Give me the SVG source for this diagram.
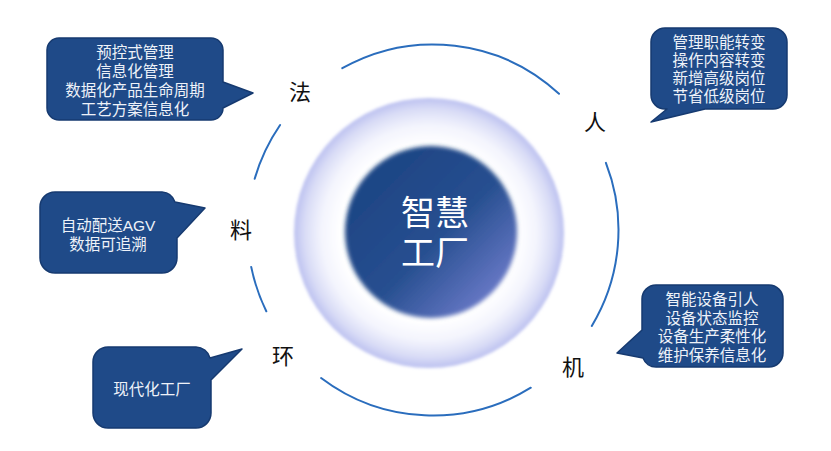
<svg xmlns="http://www.w3.org/2000/svg" width="831" height="451" viewBox="0 0 831 451">
<defs>
<radialGradient id="glow" cx="0.5" cy="0.5" r="0.5">
<stop offset="0" stop-color="#ffffff"/>
<stop offset="0.66" stop-color="#ffffff"/>
<stop offset="0.8" stop-color="#f3f4fd"/>
<stop offset="0.92" stop-color="#d9dcf6"/>
<stop offset="1" stop-color="#bcc1f0"/>
</radialGradient>
<linearGradient id="core" x1="0.25" y1="0.2" x2="0.95" y2="0.9">
<stop offset="0" stop-color="#1f4686"/>
<stop offset="0.45" stop-color="#274f90"/>
<stop offset="1" stop-color="#7480d0"/>
</linearGradient>
<filter id="soft" x="-10%" y="-10%" width="120%" height="120%">
<feGaussianBlur stdDeviation="1.6"/>
</filter>
<filter id="soft2" x="-10%" y="-10%" width="120%" height="120%">
<feGaussianBlur stdDeviation="2.2"/>
</filter>
</defs>
<style>
.arc{fill:none;stroke:#2a6dbd;stroke-width:2;stroke-linecap:round}
.box{fill:#1f4a88;stroke:#163a70;stroke-width:1.5;stroke-linejoin:round}
.bt{fill:#eef2f9;font-family:"Liberation Sans","Noto Sans CJK SC",sans-serif;font-size:15.5px;text-anchor:middle}
.lab{fill:#111111;font-family:"Liberation Sans","Noto Sans CJK SC",sans-serif;font-size:22px;text-anchor:middle}
.ct{fill:#ffffff;font-family:"Liberation Sans","Noto Sans CJK SC",sans-serif;font-size:34px;text-anchor:middle}
</style>
<rect width="831" height="451" fill="#ffffff"/>

<g id="center">
<circle cx="429" cy="233" r="135" fill="url(#glow)" filter="url(#soft)"/>
<circle cx="431" cy="232" r="86" fill="url(#core)" filter="url(#soft2)"/>
<text class="ct" x="435" y="225">智慧<tspan x="435" dy="39.5">工厂</tspan></text>
</g>

<g id="connectors">
<path class="arc" d="M342.3,68.2 A185.5,185.5 0 0 1 559,93.8"/>
<path class="arc" d="M605.9,162.9 A185.5,185.5 0 0 1 591.8,325.9"/>
<path class="arc" d="M530.8,387.7 A185.5,185.5 0 0 1 321.1,378"/>
<path class="arc" d="M266.3,311.3 A185.5,185.5 0 0 1 251.2,266.9"/>
<path class="arc" d="M254.7,178.8 A185.5,185.5 0 0 1 280.1,125"/>
</g>

<g id="label-fa"><text class="lab" x="300" y="100">法</text></g>
<g id="label-ren"><text class="lab" x="595" y="130">人</text></g>
<g id="label-liao"><text class="lab" x="241" y="237.5">料</text></g>
<g id="label-huan"><text class="lab" x="283" y="363.5">环</text></g>
<g id="label-ji"><text class="lab" x="573" y="374.5">机</text></g>

<g id="callout-fa">
<path class="box" d="M59,38 H211 A12,12 0 0 1 223,50 V82 L253,93 L223,108 A12,12 0 0 1 211,120 H59 A12,12 0 0 1 47,108 V50 A12,12 0 0 1 59,38 Z"/>
<text class="bt" x="135" y="57.5">预控式管理<tspan x="135" dy="19">信息化管理</tspan><tspan x="135" dy="19">数据化产品生命周期</tspan><tspan x="135" dy="19">工艺方案信息化</tspan></text>
</g>

<g id="callout-ren">
<path class="box" d="M665,28 H773 A14,14 0 0 1 787,42 V95 A14,14 0 0 1 773,109 H705 L651,122 L667,109 H665 A14,14 0 0 1 651,95 V42 A14,14 0 0 1 665,28 Z"/>
<text class="bt" x="719" y="48">管理职能转变<tspan x="719" dy="18">操作内容转变</tspan><tspan x="719" dy="18">新增高级岗位</tspan><tspan x="719" dy="18">节省低级岗位</tspan></text>
</g>

<g id="callout-liao">
<path class="box" d="M55,192 H162 A15,15 0 0 1 175,202 L205,208 L177,238 V258 A15,15 0 0 1 162,273 H55 A15,15 0 0 1 40,258 V207 A15,15 0 0 1 55,192 Z"/>
<text class="bt" x="108" y="231">自动配送AGV<tspan x="108" dy="19">数据可追溯</tspan></text>
</g>

<g id="callout-huan">
<path class="box" d="M108,347 H196 A15,15 0 0 1 210,358 L242,349 L211,380 V413 A15,15 0 0 1 196,428 H108 A15,15 0 0 1 93,413 V362 A15,15 0 0 1 108,347 Z"/>
<text class="bt" x="152" y="395">现代化工厂</text>
</g>

<g id="callout-ji">
<path class="box" d="M656,285 H769 A14,14 0 0 1 783,299 V353 A14,14 0 0 1 769,367 H656 A14,14 0 0 1 643,358 L617,353 L642,330 V299 A14,14 0 0 1 656,285 Z"/>
<text class="bt" x="712" y="305">智能设备引人<tspan x="712" dy="18.5">设备状态监控</tspan><tspan x="712" dy="18.5">设备生产柔性化</tspan><tspan x="712" dy="18.5">维护保养信息化</tspan></text>
</g>
</svg>
